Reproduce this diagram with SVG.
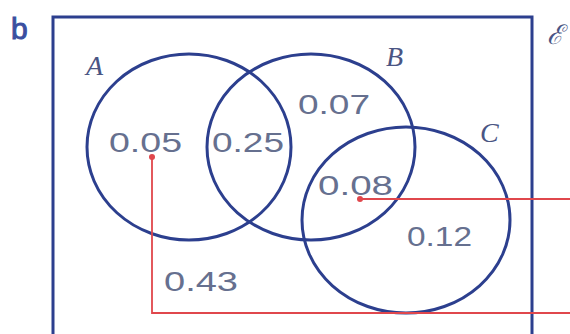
<svg xmlns="http://www.w3.org/2000/svg" width="570" height="334" viewBox="0 0 570 334">
<style>
.set{fill:none;stroke:#2c3f8e;stroke-width:3}
.val{font-family:"Liberation Sans",Arial,sans-serif;font-size:28px;font-weight:300;fill:#66708f}
.lbl{font-family:"Liberation Serif","Times New Roman",serif;font-style:italic;font-size:28px;fill:#4a5584}
.red{fill:none;stroke:#e0474c;stroke-width:1.8}
</style>
<rect width="570" height="334" fill="#ffffff"/>
<text x="11" y="39" font-family="Liberation Sans,Arial,sans-serif" font-size="30" fill="#3a4fa0" stroke="#3a4fa0" stroke-width="1">b</text>
<g id="universe">
<path class="set" d="M53,340 V17 H532 V340"/>
<text x="547" y="44" font-family="DejaVu Serif,serif" font-style="italic" font-size="27" fill="#4a5584">ℰ</text>
</g>
<g id="setA">
<ellipse class="set" cx="189" cy="147" rx="102" ry="93"/>
<text class="lbl" x="86" y="75">A</text>
</g>
<g id="setB">
<ellipse class="set" cx="311" cy="147" rx="104" ry="93"/>
<text class="lbl" x="386" y="66">B</text>
</g>
<g id="setC">
<ellipse class="set" cx="406" cy="220" rx="104" ry="93"/>
<text class="lbl" x="480" y="142">C</text>
</g>
<g id="values">
<text class="val" x="109" y="152" textLength="73" lengthAdjust="spacingAndGlyphs">0.05</text>
<text class="val" x="212" y="152" textLength="72" lengthAdjust="spacingAndGlyphs">0.25</text>
<text class="val" x="298" y="114" textLength="72" lengthAdjust="spacingAndGlyphs">0.07</text>
<text class="val" x="318" y="195" textLength="75" lengthAdjust="spacingAndGlyphs">0.08</text>
<text class="val" x="407" y="246" textLength="65" lengthAdjust="spacingAndGlyphs">0.12</text>
<text class="val" x="164" y="291" textLength="74" lengthAdjust="spacingAndGlyphs">0.43</text>
</g>
<g id="connectors">
<polyline class="red" points="152,157 152,313 570,313"/>
<line class="red" x1="360" y1="199" x2="570" y2="199"/>
<circle cx="152" cy="157" r="3" fill="#e0474c"/>
<circle cx="360" cy="199" r="3" fill="#e0474c"/>
</g>
</svg>
